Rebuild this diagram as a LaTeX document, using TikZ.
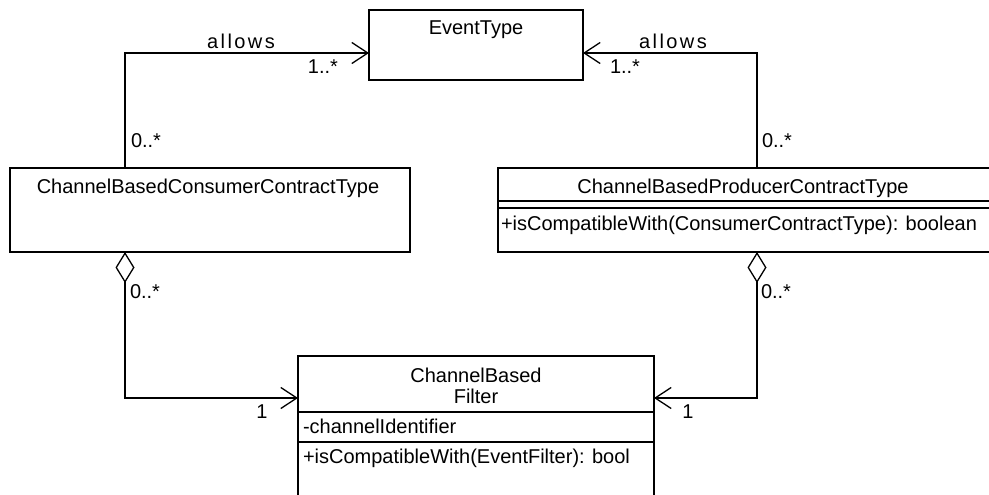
\documentclass[tikz,border=0pt]{standalone}
\usepackage{fontspec}
\setmainfont{Liberation Sans}
\usetikzlibrary{arrows.meta}
\begin{document}
\begin{tikzpicture}[x=1pt,y=-1pt,
  every node/.style={inner sep=0pt,outer sep=0pt,font=\fontsize{20}{23}\selectfont},
  box/.style={draw,line width=1.3pt,rectangle},
  conn/.style={line width=1.3pt},
  nav/.style={conn,-{Straight Barb[length=16pt,width=21pt,line width=1.3pt]}},
  agg/.style={conn,{Diamond[open,length=31pt,width=19pt,line width=1.3pt,fill=white]}-{Straight Barb[length=16pt,width=21pt,line width=1.3pt]}},
  spaced/.style={font=\fontsize{20}{23}\selectfont\addfontfeatures{LetterSpace=12}}
]
\useasboundingbox (0,0) rectangle (989,495);
% boxes
\node[box,minimum width=214pt,minimum height=70pt] (et) at (476,45) {};
\node[box,minimum width=400pt,minimum height=84pt] (cons) at (210,210) {};
\node[box,minimum width=494pt,minimum height=84pt] (prod) at (745,210) {};
\node[box,minimum width=356pt,minimum height=160pt] (filt) at (476,436) {};
% texts
\node (etT) at (476,30) {EventType};
\node (consT) at (208,188) {ChannelBasedConsumerContractType};
\node (prodT) at (743,188) {ChannelBasedProducerContractType};
\node[anchor=west] (prodM) at (501,225) {+isCompatibleWith(ConsumerContractType): boolean};
\node (filtT1) at (476,375) {ChannelBased};
\node (filtT2) at (476,396) {Filter};
\node[anchor=west] (filtA) at (303,426) {-channelIdentifier};
\node[anchor=west] (filtM) at (303,458) {+isCompatibleWith(EventFilter): bool};
% separators
\draw[line width=1.3pt] (prod.west |- 0,201) -- (prod.east |- 0,201);
\draw[line width=1.3pt] (prod.west |- 0,208) -- (prod.east |- 0,208);
\draw[line width=1.3pt] (filt.west |- 0,412) -- (filt.east |- 0,412);
\draw[line width=1.3pt] (filt.west |- 0,442) -- (filt.east |- 0,442);
% bend coordinates
\coordinate (lb) at (125,53);
\coordinate (rb) at (757,53);
\coordinate (la) at (125,398);
\coordinate (ra) at (757,398);
% connectors
\draw[nav] (cons.north -| lb) -- (lb) -- (et.west |- lb);
\draw[nav] (prod.north -| rb) -- (rb) -- (et.east |- rb);
\draw[agg] (cons.south -| la) -- (la) -- (filt.west |- la);
\draw[agg] (prod.south -| ra) -- (ra) -- (filt.east |- ra);
% labels
\node[spaced] (al1) at (241,41) {allows};
\node[spaced] (al2) at (673,41) {allows};
\node[anchor=east] (m1) at (338,67) {1..*};
\node[anchor=west] (m2) at (610,67) {1..*};
\node[anchor=west] (m3) at (131,141) {0..*};
\node[anchor=west] (m4) at (762,141) {0..*};
\node[anchor=west] (m5) at (130,292) {0..*};
\node[anchor=west] (m6) at (761,292) {0..*};
\node (m7) at (262,412) {1};
\node (m8) at (688,412) {1};
\end{tikzpicture}
\end{document}
